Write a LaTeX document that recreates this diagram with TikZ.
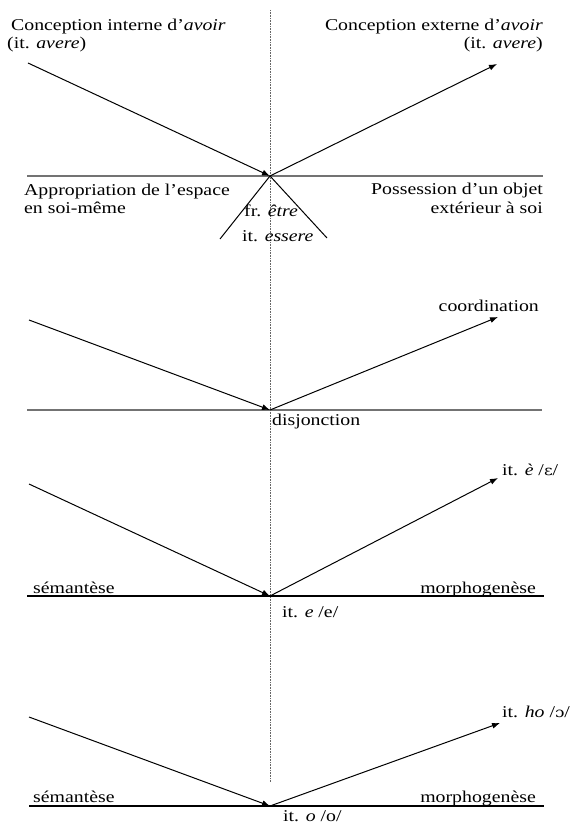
\documentclass[tikz,border=0pt]{standalone}
\usepackage{fontspec}
\setmainfont[FakeStretch=1.2]{Liberation Serif}
\newfontfamily\ipafont[FakeStretch=1.2]{DejaVu Serif}
\usetikzlibrary{arrows.meta}
\tikzset{
  arr/.style={-{Latex[length=8pt,width=6pt]}, line width=1pt},
  ground/.style={line width=1.5pt, draw=#1},
  ground/.default=black!55,
  axis/.style={densely dotted, line width=0.6pt, draw=black!60},
  lbl/.style={font=\fontsize{16.5}{18}\selectfont, inner sep=0pt},
  lw/.style={lbl, anchor=base west},
  le/.style={lbl, anchor=base east},
}

\begin{document}
\begin{tikzpicture}[x=1pt, y=-1pt]
  \useasboundingbox (0,0) rectangle (574,826);
  % axe vertical
  \coordinate (top) at (270,10);
  \coordinate (bot) at (270,782);
  \draw[axis] (top) -- (bot);

  % avoir / etre
  \coordinate (o1) at (270,176);
  \coordinate (a1) at (28,63);
  \coordinate (b1) at (497,64);
  \coordinate (l1) at (27,176);
  \coordinate (r1) at (543,176);
  \coordinate (c1) at (220,239);
  \coordinate (d1) at (327,238);
  \draw[ground] (l1) -- (r1);
  \draw[arr] (a1) -- (o1);
  \draw[arr] (o1) -- (b1);
  \draw[line width=1pt] (c1) -- (o1) -- (d1);
  \node[lw] (ci1) at (11,31) {Conception interne d'\textit{avoir}};
  \node[lw] (ci2) at (7,49) {(it. \textit{avere})};
  \node[le] (ce1) at (543,31) {Conception externe d'\textit{avoir}};
  \node[le] (ce2) at (543,49) {(it. \textit{avere})};
  \node[lw] (ap1) at (24,196) {Appropriation de l'espace};
  \node[lw] (ap2) at (24,214) {en soi-même};
  \node[le] (po1) at (543,195) {Possession d'un objet};
  \node[le] (po2) at (543,214) {extérieur à soi};
  \node[lw] (fr) at (244,216) {fr. \textit{être}};
  \node[lw] (it) at (242,241) {it. \textit{essere}};

  % coordination / disjonction
  \coordinate (o2) at (270,410);
  \coordinate (a2) at (29,320);
  \coordinate (b2) at (498,317);
  \coordinate (l2) at (27,410);
  \coordinate (r2) at (542,410);
  \draw[ground] (l2) -- (r2);
  \draw[arr] (a2) -- (o2);
  \draw[arr] (o2) -- (b2);
  \node[le] (coord) at (539,311) {coordination};
  \node[lw] (disj) at (272,425) {disjonction};

  % it. e / è
  \coordinate (o3) at (270,596);
  \coordinate (a3) at (29,484);
  \coordinate (b3) at (498,478);
  \coordinate (l3) at (27,596);
  \coordinate (r3) at (544,596);
  \draw[ground=black] (l3) -- (r3);
  \draw[arr] (a3) -- (o3);
  \draw[arr] (o3) -- (b3);
  \node[lw] (ee) at (502,475) {it. \textit{è} /{\ipafont\fontsize{14}{16}\selectfont ɛ}/};
  \node[lw] (sem3) at (33,593) {sémantèse};
  \node[le] (mor3) at (536,593) {morphogenèse};
  \node[lw] (e3) at (282,617) {it. \textit{e} /e/};

  % it. o / ho
  \coordinate (o4) at (270,806);
  \coordinate (a4) at (29,717);
  \coordinate (b4) at (500,723);
  \coordinate (l4) at (29,806);
  \coordinate (r4) at (544,806);
  \draw[ground=black] (l4) -- (r4);
  \draw[arr] (a4) -- (o4);
  \draw[arr] (o4) -- (b4);
  \node[lw] (ho) at (502,717) {it. \textit{ho} /{\ipafont\fontsize{14}{16}\selectfont ɔ}/};
  \node[lw] (sem4) at (33,802) {sémantèse};
  \node[le] (mor4) at (536,802) {morphogenèse};
  \node[lw] (o4l) at (283,821) {it. \textit{o} /o/};
\end{tikzpicture}
\end{document}
